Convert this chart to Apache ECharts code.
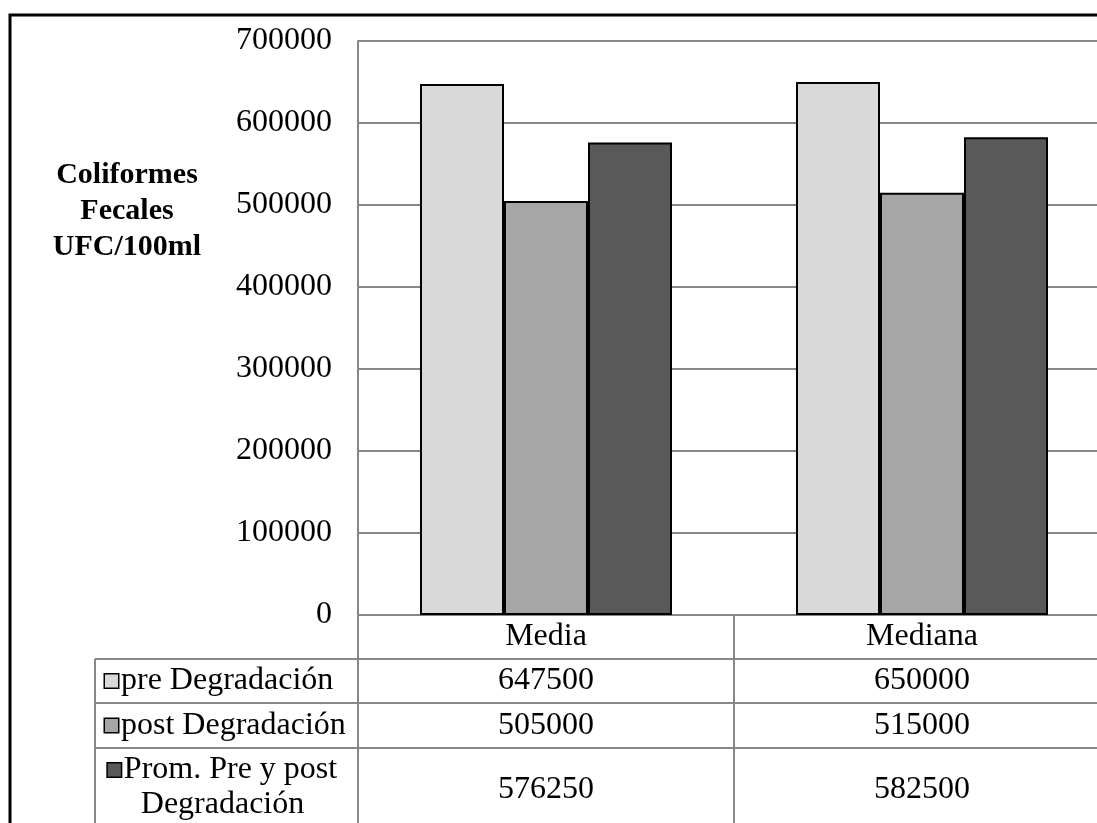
<!DOCTYPE html>
<html><head><meta charset="utf-8">
<script src="https://cdn.jsdelivr.net/npm/echarts@6/dist/echarts.min.js"></script>
<style>html,body{margin:0;padding:0;background:#fff;overflow:hidden}#c{width:1200px;height:823px}</style>
</head><body><div id="c"></div>
<script>
// ---- data ----
const categories = ['Media', 'Mediana'];
const seriesNames = ['pre Degradación', 'post Degradación', 'Prom. Pre y post\nDegradación'];
const preValues = [647500, 650000];
const postValues = [505000, 515000];
const promValues = [576250, 582500];
const axisTitle = 'Coliformes\nFecales\nUFC/100ml';
const yMin = 0, yMax = 700000, yStep = 100000;

// ---- style ----
const colors = ['#d9d9d9', '#a6a6a6', '#595959'];
const FONT = '"Liberation Serif", "Times New Roman", serif';
const GRAY = '#878787';
const FS = 32;
const gridLeft = 358, gridTop = 41, plotBottom = 615, plotRight = 1110;
const headerBottom = 659;
const rowTops = [659, 703, 748];
const rowBottoms = [703, 748, 827];
const legendLeft = 95;

const allValues = [preValues, postValues, promValues];

const chart = echarts.init(document.getElementById('c'), null, {renderer: 'canvas'});
chart.setOption({
  animation: false,
  backgroundColor: '#fff',
  grid: {left: gridLeft, top: gridTop, width: plotRight - gridLeft, height: plotBottom - gridTop, containLabel: false},
  xAxis: {
    type: 'category', data: categories,
    axisLine: {lineStyle: {color: GRAY, width: 2}},
    axisTick: {show: false},
    axisLabel: {fontFamily: FONT, fontSize: FS, color: '#000', margin: 22, verticalAlign: 'middle'}
  },
  yAxis: {
    type: 'value', min: yMin, max: yMax, interval: yStep,
    axisLine: {show: true, lineStyle: {color: GRAY, width: 2}},
    axisTick: {show: false},
    splitLine: {lineStyle: {color: GRAY, width: 2}},
    axisLabel: {fontFamily: FONT, fontSize: FS, color: '#000', margin: 26, formatter: v => String(v)}
  },
  series: seriesNames.map((n, i) => ({
    type: 'bar', name: n, data: allValues[i],
    barWidth: 84, barGap: '0%',
    itemStyle: {color: colors[i], borderColor: '#000', borderWidth: 2}
  }))
});

// ---- data table drawn from the arrays ----
const centers = categories.map((c, i) => chart.convertToPixel({xAxisIndex: 0}, i));
const half = (centers.length > 1 ? centers[1] - centers[0] : (plotRight - gridLeft)) / 2;
const bounds = [centers[0] - half].concat(centers.map(c => c + half));
const g = [];
const line = (x1, y1, x2, y2) => g.push({type: 'line', shape: {x1, y1, x2, y2}, style: {stroke: GRAY, lineWidth: 2}, z: 10});
rowTops.forEach(y => line(legendLeft, y, 1300, y));
line(legendLeft, headerBottom, legendLeft, 900);
bounds.forEach((x, i) => line(x, i === 0 ? gridTop : plotBottom, x, 900));
seriesNames.forEach((n, i) => {
  const yc = (rowTops[i] + rowBottoms[i]) / 2;
  const wrapped = n.indexOf('\n') >= 0;
  const lines = n.split('\n');
  const txt = '{i|}{s|}' + lines.join('\n');
  g.push({
    type: 'text', x: wrapped ? (legendLeft + gridLeft) / 2 - 4 : legendLeft + 10, y: yc, z: 11,
    style: {
      text: txt, fontFamily: FONT, fontSize: FS, fill: '#000', lineHeight: 35,
      align: wrapped ? 'center' : 'left', verticalAlign: 'middle',
      rich: {
        i: {width: 13, height: 13, backgroundColor: colors[i], borderColor: '#000', borderWidth: 1.5},
        s: {width: 3}
      }
    }
  });
  allValues[i].forEach((v, j) => {
    g.push({
      type: 'text', x: centers[j], y: yc + (wrapped ? 2 : 0), z: 11,
      style: {text: String(v), fontFamily: FONT, fontSize: FS, fill: '#000', align: 'center', verticalAlign: 'middle'}
    });
  });
});
g.push({
  type: 'text', x: 127, y: 211, z: 11,
  style: {text: axisTitle, fontFamily: FONT, fontSize: 30, fontWeight: 'bold', fill: '#000', lineHeight: 36, align: 'center', verticalAlign: 'middle'}
});
g.push({type: 'rect', shape: {x: 10, y: 15, width: 1400, height: 1000}, style: {fill: 'none', stroke: '#000', lineWidth: 3}, z: 12});
chart.setOption({graphic: {elements: g}});
</script>
</body></html>
